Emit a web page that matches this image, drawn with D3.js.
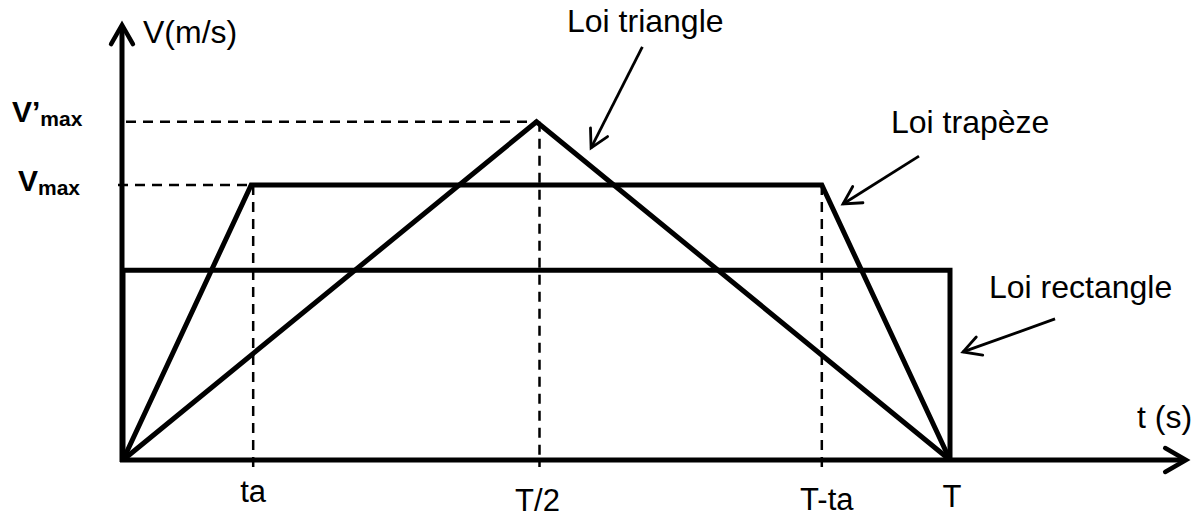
<!DOCTYPE html>
<html>
<head>
<meta charset="utf-8">
<script src="https://cdn.jsdelivr.net/npm/d3@7"></script>
<style>
  html, body { margin: 0; padding: 0; background: #fff; }
  svg { display: block; }
  text { font-family: Arial, "Liberation Sans", sans-serif; fill: #000; }
</style>
</head>
<body>
<svg id="chart" width="1199" height="519"></svg>
<script>
// ---- data (time normalised to T = 1, speed normalised to Vmax = 1) ----
const ta = 0.155;
const tickLabels = ["ta", "T/2", "T-ta", "T"];
const tickValues = [ta, 0.5, 1 - ta, 1];

const triangleT = [0, 0.5, 1];
const triangleV = [0, 1.23, 0];

const trapezeT = [0, ta, 1 - ta, 1];
const trapezeV = [0, 1, 1, 0];

const rectangleT = [0, 0, 1, 1];
const rectangleV = [0, 0.69, 0.69, 0];

const levelLabels = ["V’", "V"];
const levelValues = [1.23, 1];

const lawNames = ["Loi triangle", "Loi trapèze", "Loi rectangle"];
// annotation arrows: [t0, v0, t1, v1] (from label toward curve)
const arrowTriangle = [0.628, 1.502, 0.566, 1.135];
const arrowTrapeze = [0.9625, 1.105, 0.8706, 0.931];
const arrowRectangle = [1.127, 0.513, 1.0157, 0.393];

// ---- drawing ----
const svg = d3.select("#chart");
const x = d3.scaleLinear().domain([0, 1]).range([123, 950]);
const y = d3.scaleLinear().domain([0, 1]).range([460, 185]);

const line = d3.line().x(d => x(d[0])).y(d => y(d[1]));

function arrowHead(g, x1, y1, x0, y0, len, half, w) {
  const a = Math.atan2(y1 - y0, x1 - x0);
  const p1 = [x1 - len * Math.cos(a - half), y1 - len * Math.sin(a - half)];
  const p2 = [x1 - len * Math.cos(a + half), y1 - len * Math.sin(a + half)];
  g.append("path")
    .attr("d", `M${p1[0]},${p1[1]}L${x1},${y1}L${p2[0]},${p2[1]}`)
    .attr("fill", "none").attr("stroke", "#000")
    .attr("stroke-width", w).attr("stroke-linecap", "round").attr("stroke-linejoin", "miter");
}

// dashed guides
const dash = svg.append("g").attr("stroke", "#000").attr("stroke-width", 2.5)
  .attr("stroke-dasharray", "10,7").attr("fill", "none");
// V'max horizontal
dash.append("line").attr("x1", x(0) + 3).attr("x2", x(0.5)).attr("y1", y(levelValues[0])).attr("y2", y(levelValues[0]));
// Vmax horizontal
dash.append("line").attr("x1", x(0) - 5).attr("x2", x(ta)).attr("y1", y(levelValues[1])).attr("y2", y(levelValues[1]));
// verticals
dash.append("line").attr("x1", x(ta) + 2).attr("x2", x(ta) + 2).attr("y1", y(1)).attr("y2", y(0) + 7);
dash.append("line").attr("x1", x(0.5) + 3).attr("x2", x(0.5) + 3).attr("y1", y(levelValues[0])).attr("y2", y(0) + 7);
dash.append("line").attr("x1", x(1 - ta)).attr("x2", x(1 - ta)).attr("y1", y(1)).attr("y2", y(0) + 7);

// curves
const curves = svg.append("g").attr("fill", "none").attr("stroke", "#000")
  .attr("stroke-width", 5).attr("stroke-linejoin", "miter");
curves.append("path").attr("d", line(d3.zip(rectangleT, rectangleV)));
curves.append("path").attr("d", line(d3.zip(trapezeT, trapezeV)));
curves.append("path").attr("d", line(d3.zip(triangleT, triangleV)));

// axes
const axes = svg.append("g");
const x0 = x(0) - 1, yBase = y(0);
axes.append("line").attr("x1", x0).attr("x2", x0).attr("y1", yBase + 2).attr("y2", 26)
  .attr("stroke", "#000").attr("stroke-width", 5);
arrowHead(axes, x0, 25, x0, 200, 22, 0.52, 4.5);
axes.append("line").attr("x1", x0 - 2).attr("x2", 1185).attr("y1", yBase).attr("y2", yBase)
  .attr("stroke", "#000").attr("stroke-width", 5);
arrowHead(axes, 1186, yBase, 900, yBase, 24, 0.52, 4.5);

// axis titles
svg.append("text").attr("x", 143).attr("y", 43).attr("font-size", 32).text("V(m/s)");
svg.append("text").attr("x", 1137).attr("y", 428).attr("font-size", 32).text("t (s)");

// x tick labels
const tickDx = [2, 1, 5, 2];
const tickY = [502, 511, 510, 507];
svg.append("g").selectAll("text").data(tickLabels).join("text")
  .attr("x", (d, i) => x(tickValues[i]) + tickDx[i])
  .attr("y", (d, i) => tickY[i])
  .attr("text-anchor", "middle").attr("font-size", 31)
  .text(d => d);

// level labels (bold, with subscript)
const lvlX = [12, 18];
const lvlY = [122, 191];
levelLabels.forEach((lab, i) => {
  const t = svg.append("text").attr("x", lvlX[i]).attr("y", lvlY[i])
    .attr("font-weight", "bold").attr("font-size", 30);
  t.append("tspan").text(lab);
  t.append("tspan").attr("font-size", 21).attr("dy", 4).text("max");
});

// law labels and arrows
const lawPos = [[567, 32], [891, 133], [989, 298]];
svg.append("g").selectAll("text").data(lawNames).join("text")
  .attr("x", (d, i) => lawPos[i][0]).attr("y", (d, i) => lawPos[i][1])
  .attr("font-size", 32).text(d => d);

const ann = svg.append("g");
[arrowTriangle, arrowTrapeze, arrowRectangle].forEach(a => {
  const X0 = x(a[0]), Y0 = y(a[1]), X1 = x(a[2]), Y1 = y(a[3]);
  ann.append("line").attr("x1", X0).attr("y1", Y0).attr("x2", X1).attr("y2", Y1)
    .attr("stroke", "#000").attr("stroke-width", 2.8);
  arrowHead(ann, X1, Y1, X0, Y0, 20, 0.5, 2.8);
});
</script>
</body>
</html>
